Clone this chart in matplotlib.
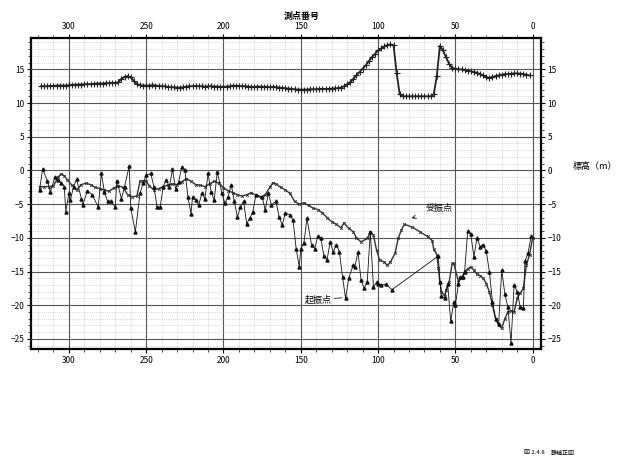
import numpy as np
import matplotlib
matplotlib.use("Agg")
import matplotlib.pyplot as plt
from matplotlib.ticker import MultipleLocator

plt.rcParams['font.family'] = ['Noto Sans CJK JP', 'DejaVu Sans']

# 標高 (测点 318 -> 2, 2 点おき)
elev = [12.5, 12.5, 12.5, 12.55, 12.55, 12.6, 12.6, 12.6, 12.6, 12.65,
        12.7, 12.7, 12.75, 12.75, 12.8, 12.8, 12.8, 12.85, 12.9, 12.9, 12.9, 12.95, 12.95, 13.0,
        13.0, 13.1, 13.6, 13.9, 14.0, 13.8, 13.3, 12.8, 12.65, 12.6,
        12.6, 12.6, 12.65, 12.6, 12.55, 12.5, 12.5, 12.4, 12.35, 12.35, 12.3, 12.3, 12.35,
        12.45, 12.5, 12.5, 12.55, 12.5, 12.5, 12.45, 12.5, 12.5, 12.45, 12.45, 12.4, 12.4,
        12.45, 12.5, 12.55, 12.55, 12.55, 12.5, 12.5, 12.45, 12.4, 12.4,
        12.45, 12.45, 12.4, 12.4, 12.35, 12.4, 12.35, 12.3, 12.25, 12.2,
        12.15, 12.1, 12.05, 12.0, 12.0, 12.0, 12.0, 12.05, 12.05, 12.05,
        12.1, 12.1, 12.1, 12.1, 12.15, 12.2, 12.2, 12.3,
        12.5, 12.8, 13.1, 13.6, 14.1, 14.6, 15.1, 15.6, 16.2, 16.8, 17.3, 17.8, 18.1, 18.4, 18.6, 18.7, 18.6,
        14.5, 11.3, 11.0, 11.0, 11.0, 11.0, 11.0, 11.0, 11.0, 11.0, 11.0, 11.0, 11.3,
        14.0, 18.5, 17.8, 16.8, 15.8, 15.2, 15.1, 15.0, 15.0, 14.9, 14.8, 14.7, 14.6, 14.5, 14.3,
        14.1, 13.9, 13.7, 13.9, 14.0, 14.1, 14.2, 14.3, 14.3, 14.35, 14.4, 14.4, 14.35, 14.3, 14.2, 14.1]
elev_st = np.arange(318, 318 - 2 * len(elev), -2)

# 受振点
rcv_st = [319, 316, 313, 310, 307, 305, 303, 301, 298, 295, 292, 289, 286, 283, 280,
          277, 274, 271, 268, 265, 262, 259, 256, 254, 252, 250, 248, 245, 242, 239,
          236, 233, 230, 227, 224, 221, 218, 215, 212, 209, 206, 203, 200, 197, 194,
          191, 188, 185, 182, 179, 176, 173, 170, 168, 166, 163, 160, 157, 154, 151,
          148, 145, 142, 139, 136, 133, 130, 127, 124, 122, 119, 116, 114, 111, 107,
          105, 103, 101, 99, 96, 94, 92, 89, 87, 85, 83, 78, 73, 68, 65,
          64, 62, 61, 60, 59, 57, 56, 54, 52, 51, 48, 46, 44, 42, 40,
          38, 36, 34, 32, 30, 28, 26, 24, 22, 20, 18, 16, 14, 12, 10, 8, 6, 4, 2, 0]
rcv_v = [-2.4, -2.4, -2.4, -2.3, -1.0, -0.5, -0.8, -1.4, -2.2, -2.9, -2.1, -1.9, -2.1, -2.5, -2.7,
         -2.9, -3.1, -2.6, -2.3, -2.5, -3.6, -3.9, -3.8, -1.6, -1.5, -1.6, -2.3, -2.9, -2.7, -2.4,
         -2.2, -2.0, -2.1, -1.7, -1.2, -1.6, -2.1, -2.2, -2.4, -2.0, -1.6, -1.9, -2.6, -3.0, -3.3,
         -3.6, -3.8, -3.6, -3.3, -3.7, -4.0, -3.6, -2.5, -1.8, -2.0, -2.5, -2.9, -3.4, -4.6, -5.0,
         -4.8, -5.2, -5.6, -5.8, -6.3, -7.0, -7.6, -8.0, -8.5, -7.8, -8.6, -9.1, -10.0, -10.6, -10.1,
         -9.1, -9.6, -11.8, -13.3, -13.6, -14.1, -13.6, -12.3, -10.1, -8.9, -8.0, -8.4, -9.1, -9.8, -10.4,
         -11.7, -12.5, -14.5, -16.5, -18.0, -18.6, -17.8, -16.5, -13.8, -13.8, -16.5, -16.0, -15.0, -14.6, -14.3,
         -14.8, -15.4, -15.6, -16.0, -16.8, -18.0, -20.0, -22.0, -23.0, -23.4, -22.0, -21.0, -20.8, -21.0, -19.0,
         -18.2, -17.5, -14.0, -12.5, -10.0]

# 起振点
src_st = [319, 317, 314, 312, 309, 307, 305, 303, 302, 300, 299, 297, 295, 292, 291,
          288, 285, 281, 279, 277, 275, 273, 270, 269, 266, 264, 261, 260, 257, 254,
          252, 250, 247, 245, 243, 241, 239, 237, 235, 233, 231, 229, 227, 225, 223,
          221, 220, 218, 216, 214, 212, 210, 208, 206, 204, 201, 199, 197, 195, 193,
          191, 189, 187, 185, 183, 181, 179, 175, 173, 171, 169, 166, 164, 162, 160,
          157, 155, 153, 151, 150, 148, 146, 143, 141, 139, 137, 135, 133, 131, 129,
          127, 125, 123, 121, 119, 116, 115, 113, 111, 109, 107, 105, 103, 101, 100,
          98, 95, 91, 61, 60, 59, 57, 55, 53, 51, 50, 48, 47, 45, 44,
          42, 40, 38, 36, 34, 32, 30, 28, 26, 24, 22, 20, 18, 16, 14,
          12, 10, 8, 6, 5, 3, 1]
src_v = [-2.9, 0.2, -1.5, -3.2, -1.0, -1.4, -1.8, -2.4, -6.1, -3.4, -4.4, -2.4, -1.3, -4.2, -5.1,
         -3.0, -3.6, -5.4, -0.45, -3.2, -4.6, -4.6, -5.4, -1.5, -4.2, -2.4, 0.64, -5.6, -9.1, -3.4,
         -1.9, -0.7, -0.45, -2.4, -5.4, -5.5, -2.4, -1.4, -2.4, 0.14, -2.7, -1.7, 0.54, 0.05, -3.9,
         -6.4, -3.9, -4.4, -5.1, -3.4, -4.2, -0.45, -3.2, -4.4, -0.2, -3.4, -4.9, -3.9, -2.1, -4.6,
         -6.9, -5.4, -4.6, -7.9, -7.1, -6.1, -3.6, -3.9, -5.9, -3.4, -5.1, -4.6, -6.9, -8.1, -6.3,
         -6.6, -7.4, -11.6, -14.3, -11.6, -10.8, -7.1, -11.1, -11.6, -9.8, -10.1, -12.7, -13.3, -10.6, -12.1,
         -11.0, -12.1, -15.8, -19.0, -16.0, -14.0, -14.3, -12.1, -16.3, -17.5, -16.5, -9.1, -17.3, -16.6, -16.8,
         -17.0, -16.9, -17.7, -12.7, -16.5, -18.6, -19.0, -16.8, -22.4, -19.5, -20.0, -16.8, -15.8, -15.8, -15.0,
         -9.0, -9.5, -12.8, -10.0, -11.3, -11.0, -12.0, -15.0, -19.5, -22.0, -22.8, -14.8, -18.3, -20.3, -25.6,
         -17.0, -18.0, -20.3, -20.4, -13.5, -12.3, -9.8]

fig = plt.figure(figsize=(6.18, 4.63), dpi=100)
ax = fig.add_axes([0.0502, 0.2462, 0.8247, 0.6724])

# 格子
ax.xaxis.set_major_locator(MultipleLocator(50))
ax.xaxis.set_minor_locator(MultipleLocator(10))
ax.yaxis.set_major_locator(MultipleLocator(5))
ax.yaxis.set_minor_locator(MultipleLocator(1))
ax.grid(which='major', color='#555555', lw=0.8, ls='-')
ax.grid(which='minor', color='#b8b8b8', lw=0.5, ls=':')
ax.set_axisbelow(True)

ax.plot(elev_st, elev, color='#222222', lw=1.3, marker='+', ms=4, mew=0.8)
ax.plot(rcv_st, rcv_v, color='#333333', lw=1.0, marker='x', ms=2, mew=0.6)
ax.plot(src_st, src_v, color='#111111', lw=0.6, marker='^', ms=2.2)

ax.set_xlim(324.5, -5.2)
ax.set_ylim(-26.5, 19.7)

ax.tick_params(which='both', top=True, right=True, labeltop=True, labelright=True,
               direction='out', labelsize=6, pad=2)
ax.tick_params(which='major', length=3, width=0.8)
ax.tick_params(which='minor', length=2, width=0.5)
for sp in ax.spines.values():
    sp.set_linewidth(1.6)

fig.text(302 / 618, 1 - 16 / 463, '測点番号', fontsize=6.5, ha='center', va='center', fontweight='bold')
fig.text(573 / 618, 1 - 167 / 463, '標高（m）', fontsize=6.5, ha='left', va='center')

ax.annotate('受振点', xy=(78.3, -7.1), xytext=(60.6, -5.6), fontsize=6.5,
            ha='center', va='center',
            arrowprops=dict(arrowstyle='->', lw=0.6, color='#222222', shrinkA=6, shrinkB=0))
ax.annotate('起振点', xy=(123.5, -18.9), xytext=(138.9, -19.2), fontsize=6.5,
            ha='center', va='center',
            arrowprops=dict(arrowstyle='-', lw=0.6, color='#222222', shrinkA=10, shrinkB=0))

fig.text(524 / 618, 1 - 453 / 463, '図 2.4.8', fontsize=4.3, ha='left', va='center')
fig.text(551 / 618, 1 - 453 / 463, '静補正図', fontsize=4.3, ha='left', va='center')

fig.savefig('out.png', dpi=100)
